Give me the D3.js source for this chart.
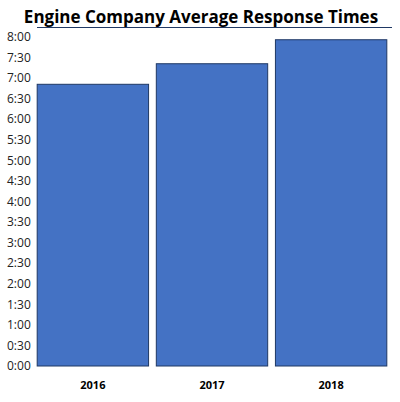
<!DOCTYPE html>
<html><head><meta charset="utf-8">
<script src="https://cdn.jsdelivr.net/npm/d3@7"></script>
<style>body{margin:0;background:#fff}</style>
</head><body>
<svg id="chart" width="400" height="402"></svg>
<script>
// response times in seconds
const years = ['2016', '2017', '2018'];
const seconds = [411, 441, 476];
const tickSeconds = d3.range(0, 481, 30);

const fmt = s => `${Math.floor(s / 60)}:${String(s % 60).padStart(2, '0')}`;

const svg = d3.select('#chart');
const x = d3.scaleBand().domain(years).range([36, 388]).paddingInner(0.065).paddingOuter(0.01);
const y = d3.scaleLinear().domain([0, 480]).range([366, 37]);

svg.append('text')
  .attr('x', 201).attr('y', 23)
  .attr('text-anchor', 'middle')
  .style('font', 'bold 17px "Open Sans", sans-serif')
  .text('Engine Company Average Response Times');

svg.append('line')
  .attr('x1', 37).attr('x2', 392).attr('y1', 27.5).attr('y2', 27.5)
  .attr('stroke', '#1f3864').attr('stroke-width', 1.2);

svg.append('g').selectAll('text')
  .data(tickSeconds).join('text')
  .attr('x', 7).attr('y', d => y(d)).attr('dy', '0.35em')
  .style('font', '12px "Open Sans", sans-serif').attr('fill', '#222')
  .text(fmt);

svg.append('g').selectAll('rect')
  .data(years).join('rect')
  .attr('x', d => x(d)).attr('width', x.bandwidth())
  .attr('y', (d, i) => y(seconds[i])).attr('height', (d, i) => y(0) - y(seconds[i]))
  .attr('fill', '#4472c4').attr('stroke', '#1f3864').attr('stroke-width', 1);

svg.append('g').selectAll('text')
  .data(years).join('text')
  .attr('x', d => x(d) + x.bandwidth() / 2).attr('y', 389)
  .attr('text-anchor', 'middle')
  .style('font', 'bold 11px "Open Sans", sans-serif')
  .text(d => d);
</script>
</body></html>
